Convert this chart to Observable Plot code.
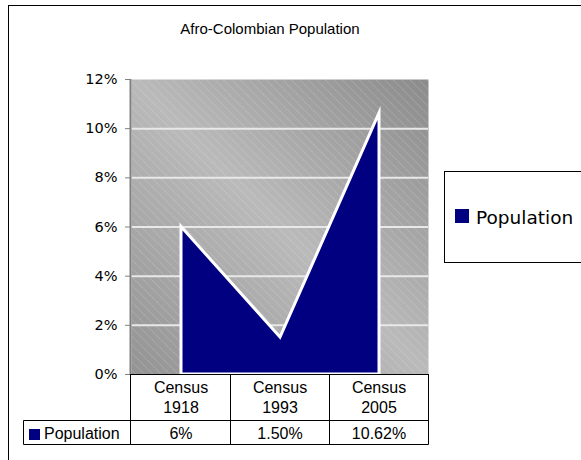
<!DOCTYPE html>
<html><head><meta charset="utf-8">
<script src="https://cdn.jsdelivr.net/npm/d3@7"></script>
<script src="https://cdn.jsdelivr.net/npm/@observablehq/plot@0.6"></script>
<style>body{margin:0;background:#fff}</style>
</head><body><div id="chart"></div>
<script>
const title = "Afro-Colombian Population";
const categories = ["Census 1918", "Census 1993", "Census 2005"];
const population = [0.06, 0.015, 0.1062];
const tableLabels = ["6%", "1.50%", "10.62%"];
const yTicks = [0, 0.02, 0.04, 0.06, 0.08, 0.10, 0.12];
const seriesName = "Population";

const data = categories.map((c, i) => ({category: c, value: population[i]}));
const navy = "#000080";

const plot = Plot.plot({
  width: 581, height: 460,
  marginLeft: 131, marginRight: 153, marginTop: 79, marginBottom: 86,
  style: {background: "white", overflow: "visible", fontFamily: "DejaVu Sans", fontSize: "14px"},
  x: {type: "point", domain: categories, padding: 0.5, axis: null},
  y: {domain: [0, 0.12], axis: null},
  marks: [
    Plot.frame({fill: "url(#bgGrad)", stroke: "none"}),
    Plot.frame({fill: "url(#hatch)", stroke: "none"}),
    Plot.ruleY(yTicks.filter(t => t > 0 && t < 0.12), {stroke: "#e8e8e8", strokeWidth: 2}),
    Plot.areaY(data, {x: "category", y: "value", fill: navy, stroke: "white", strokeWidth: 3, strokeLinejoin: "miter", strokeMiterlimit: 10}),
    Plot.axisY({ticks: yTicks, tickFormat: d3.format(".0%"), tickSize: 6, tickPadding: 8,
      stroke: "#808080", fill: "black", fontSize: 14.5, fontFamily: "DejaVu Sans", label: null})
  ]
});

const svg = d3.select(plot);
const defs = svg.insert("defs", ":first-child");
const grad = defs.append("linearGradient").attr("id", "bgGrad")
  .attr("x1", 0).attr("y1", 1).attr("x2", 1).attr("y2", 0);
grad.append("stop").attr("offset", 0).attr("stop-color", "#939393");
grad.append("stop").attr("offset", 0.5).attr("stop-color", "#bababa");
grad.append("stop").attr("offset", 1).attr("stop-color", "#8b8b8b");
const pat = defs.append("pattern").attr("id", "hatch").attr("patternUnits", "userSpaceOnUse")
  .attr("width", 12).attr("height", 6).attr("patternTransform", "rotate(45)");
pat.append("line").attr("x1", 0).attr("y1", 0.5).attr("x2", 12).attr("y2", 0.5)
  .attr("stroke", "white").attr("stroke-opacity", 0.25).attr("stroke-width", 0.8)
  .attr("stroke-dasharray", "1.5 1");

const xs = plot.scale("x"), ys = plot.scale("y");
const [left, right] = xs.range;
const y0 = ys.apply(0), yTop = ys.apply(0.12);
const step = xs.apply(categories[1]) - xs.apply(categories[0]);
const headerBottom = y0 + 46, rowBottom = headerBottom + 24, labelLeft = 23;

const g = svg.append("g").attr("text-anchor", "start");
// y axis line
g.append("line").attr("x1", left - 0.5).attr("x2", left - 0.5).attr("y1", yTop).attr("y2", y0)
  .attr("stroke", "#808080").attr("stroke-width", 2);

// table lines
const ln = (x1, y1, x2, y2) => g.append("line").attr("x1", x1).attr("y1", y1).attr("x2", x2).attr("y2", y2)
  .attr("stroke", "black").attr("stroke-width", 1);
ln(left - 1, y0 + 0.5, right + 0.5, y0 + 0.5);
ln(labelLeft + 0.5, headerBottom + 0.5, right + 0.5, headerBottom + 0.5);
ln(labelLeft + 0.5, rowBottom + 0.5, right + 0.5, rowBottom + 0.5);
ln(labelLeft + 0.5, headerBottom + 0.5, labelLeft + 0.5, rowBottom + 0.5);
ln(left - 0.5, y0, left - 0.5, rowBottom + 0.5);
categories.forEach(c => {
  const xb = Math.round(xs.apply(c) + step / 2) - 0.5;
  ln(xb, y0, xb, rowBottom + 0.5);
});

const tf = "Liberation Sans, Arial, sans-serif";
categories.forEach((c, i) => {
  const cx = xs.apply(c);
  const [a, b] = c.split(" ");
  g.append("text").attr("x", cx).attr("y", y0 + 19).attr("text-anchor", "middle")
    .attr("font-family", tf).attr("font-size", 16).text(a);
  g.append("text").attr("x", cx).attr("y", y0 + 39).attr("text-anchor", "middle")
    .attr("font-family", tf).attr("font-size", 16).text(b);
  g.append("text").attr("x", cx).attr("y", rowBottom - 5).attr("text-anchor", "middle")
    .attr("font-family", tf).attr("font-size", 16).text(tableLabels[i]);
});
g.append("rect").attr("x", 29).attr("y", rowBottom - 15).attr("width", 11).attr("height", 11).attr("fill", navy);
g.append("text").attr("x", 44).attr("y", rowBottom - 5).attr("text-anchor", "start")
  .attr("font-family", tf).attr("font-size", 16).text(seriesName);

// title
g.append("text").attr("x", 270).attr("y", 34).attr("text-anchor", "middle")
  .attr("font-family", tf).attr("font-size", 15).text(title);

// outer frame
g.append("rect").attr("x", 8.5).attr("y", 5.5).attr("width", 700).attr("height", 600)
  .attr("fill", "none").attr("stroke", "black");

// legend
g.append("rect").attr("x", 444.5).attr("y", 171.5).attr("width", 200).attr("height", 91)
  .attr("fill", "white").attr("stroke", "black");
g.append("rect").attr("x", 455).attr("y", 209).attr("width", 14).attr("height", 14).attr("fill", navy);
g.append("text").attr("x", 476).attr("y", 224).attr("text-anchor", "start")
  .attr("font-family", "DejaVu Sans").attr("font-size", 18.5).text(seriesName);

document.getElementById("chart").appendChild(plot);
</script>
</body></html>
